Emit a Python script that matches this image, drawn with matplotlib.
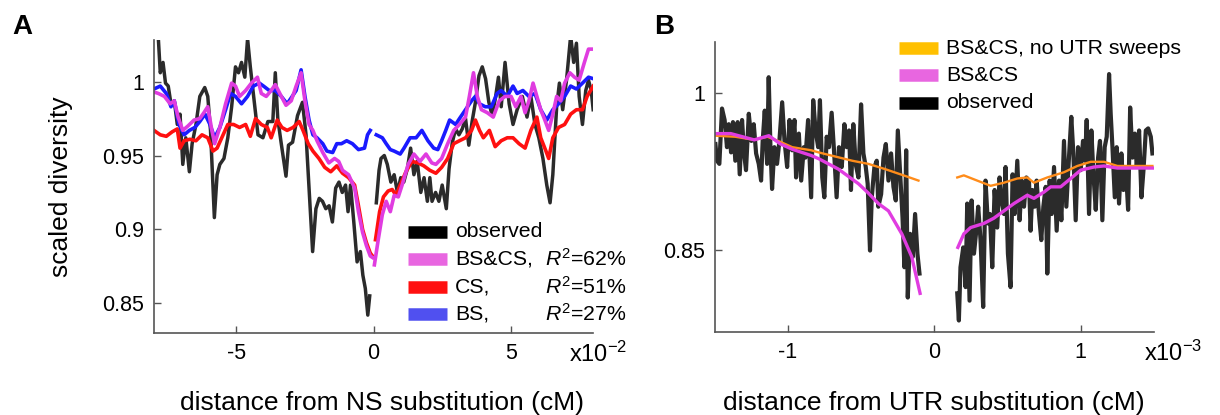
import matplotlib
matplotlib.use('Agg')
import matplotlib.pyplot as plt

nan = float('nan')

# ---- panel A: distance from NS substitution (x10^-2 cM) ----
a_obs_left_x = [-8.0, -7.84, -7.77, -7.67, -7.58, -7.48, -7.38, -7.26, -7.15, -7.05, -6.95, -6.84, -6.71, -6.61,
                -6.47, -6.33, -6.15, -6.04, -5.94, -5.8, -5.7, -5.6, -5.45, -5.31, -5.17, -5.03, -4.92, -4.81,
                -4.69, -4.59, -4.49, -4.38, -4.21, -4.03, -3.85, -3.67, -3.58, -3.49, -3.37, -3.19, -3.1, -2.95,
                -2.77, -2.59, -2.46, -2.34, -2.22, -2.1, -1.98, -1.86, -1.74, -1.62, -1.5, -1.38, -1.26, -1.14,
                -1.02, -0.93, -0.84, -0.72, -0.6, -0.48, -0.39, -0.3, -0.21, -0.14]
a_obs_left_y = [1.031, 1.029, 1.006, 1.013, 0.999, 0.997, 0.985, 0.987, 0.971, 0.978, 0.944, 0.962, 0.939, 0.958,
                0.971, 0.990, 0.996, 0.990, 0.967, 0.908, 0.937, 0.944, 0.948, 0.962, 0.983, 1.010, 1.006, 1.013,
                1.003, 1.029, 1.010, 0.992, 0.964, 0.962, 0.973, 0.973, 1.006, 0.975, 0.959, 0.936, 0.957, 0.959,
                0.977, 0.986, 0.964, 0.925, 0.885, 0.914, 0.921, 0.919, 0.914, 0.916, 0.905, 0.928, 0.932, 0.925,
                0.930, 0.912, 0.930, 0.905, 0.878, 0.885, 0.869, 0.860, 0.842, 0.855]
a_obs_right_x = [0.1, 0.2, 0.27, 0.39, 0.5, 0.63, 0.75, 0.87, 0.99, 1.1, 1.23, 1.35, 1.47, 1.59, 1.72, 1.84, 1.96,
                 2.05, 2.13, 2.26, 2.38, 2.5, 2.65, 2.75, 2.87, 2.99, 3.11, 3.23, 3.35, 3.47, 3.59, 3.71, 3.84,
                 3.96, 4.08, 4.2, 4.32, 4.44, 4.55, 4.65, 4.79, 4.94, 5.08, 5.23, 5.42, 5.59, 5.73, 5.88, 6.02,
                 6.17, 6.31, 6.43, 6.53, 6.67, 6.77, 6.89, 7.03, 7.18, 7.29, 7.39, 7.49, 7.61, 7.73, 7.83, 7.93, 8.0]
a_obs_right_y = [0.918, 0.940, 0.948, 0.950, 0.944, 0.932, 0.937, 0.925, 0.935, 0.932, 0.941, 0.955, 0.937, 0.946,
                 0.925, 0.935, 0.919, 0.935, 0.919, 0.925, 0.919, 0.930, 0.914, 0.941, 0.959, 0.968, 0.964, 0.968,
                 0.975, 0.957, 0.973, 0.986, 1.004, 1.010, 1.002, 0.986, 0.977, 0.989, 1.003, 0.983, 1.013, 0.985,
                 0.971, 0.981, 0.990, 0.976, 0.990, 0.971, 0.962, 0.948, 0.930, 0.918, 0.937, 0.983, 0.999, 0.981,
                 1.001, 1.031, 1.013, 1.026, 0.990, 0.971, 0.994, 1.001, 0.994, 0.981]

a_bscs_left_x = [-8.0, -7.84, -7.62, -7.41, -7.26, -7.12, -6.95, -6.76, -6.54, -6.33, -6.18, -6.04, -5.89, -5.79,
                 -5.6, -5.39, -5.17, -5.03, -4.88, -4.66, -4.45, -4.23, -4.09, -3.91, -3.73, -3.58, -3.36, -3.19,
                 -3.0, -2.82, -2.64, -2.5, -2.35, -2.21, -2.06, -1.85, -1.63, -1.42, -1.27, -1.13, -0.91, -0.69,
                 -0.55, -0.4, -0.26, -0.12, -0.04]
a_bscs_left_y = [0.993, 0.992, 0.990, 0.985, 0.987, 0.976, 0.967, 0.970, 0.974, 0.975, 0.979, 0.983, 0.967, 0.958,
                 0.969, 0.985, 0.999, 0.997, 0.990, 0.994, 0.999, 1.003, 0.992, 0.990, 0.994, 0.998, 0.990, 0.984,
                 0.987, 0.997, 1.006, 0.987, 0.971, 0.967, 0.960, 0.952, 0.945, 0.948, 0.946, 0.940, 0.937, 0.928,
                 0.912, 0.898, 0.889, 0.882, 0.881]
a_bscs_right_x = [0.03, 0.17, 0.32, 0.46, 0.61, 0.75, 0.9, 1.04, 1.26, 1.47, 1.69, 1.91, 2.12, 2.27, 2.48, 2.7,
                  2.92, 3.13, 3.35, 3.49, 3.64, 3.78, 3.93, 4.14, 4.36, 4.58, 4.79, 5.01, 5.18, 5.37, 5.52, 5.66,
                  5.81, 5.95, 6.09, 6.24, 6.38, 6.53, 6.67, 6.82, 6.96, 7.15, 7.32, 7.49, 7.68, 7.83, 8.0]
a_bscs_right_y = [0.876, 0.893, 0.910, 0.919, 0.912, 0.923, 0.922, 0.930, 0.944, 0.951, 0.946, 0.951, 0.945, 0.944,
                  0.948, 0.958, 0.967, 0.971, 0.976, 0.990, 1.006, 0.990, 0.981, 0.979, 0.976, 0.987, 0.990, 0.990,
                  0.983, 0.990, 0.979, 0.987, 0.999, 0.990, 0.981, 0.974, 0.967, 0.978, 0.990, 0.987, 0.999, 1.006,
                  1.003, 1.001, 1.013, 1.022, 1.022]

a_cs_left_x = [-8.0, -7.77, -7.55, -7.34, -7.15, -7.05, -6.9, -6.69, -6.47, -6.25, -6.04, -5.85, -5.7, -5.53, -5.31,
               -5.1, -4.88, -4.66, -4.49, -4.3, -4.09, -3.87, -3.73, -3.51, -3.34, -3.15, -2.93, -2.71, -2.57, -2.38,
               -2.21, -1.99, -1.78, -1.56, -1.34, -1.13, -0.91, -0.69, -0.55, -0.4, -0.26, -0.12, -0.04]
a_cs_left_y = [0.967, 0.964, 0.963, 0.966, 0.968, 0.955, 0.960, 0.961, 0.960, 0.964, 0.962, 0.953, 0.955, 0.962,
               0.971, 0.971, 0.969, 0.971, 0.963, 0.975, 0.971, 0.969, 0.962, 0.974, 0.969, 0.967, 0.969, 0.973,
               0.967, 0.958, 0.953, 0.948, 0.942, 0.939, 0.943, 0.938, 0.935, 0.930, 0.916, 0.900, 0.891, 0.884,
               0.882]
a_cs_right_x = [0.07, 0.22, 0.36, 0.53, 0.68, 0.82, 0.97, 1.18, 1.4, 1.62, 1.83, 2.05, 2.27, 2.48, 2.7, 2.92, 3.13,
                3.35, 3.57, 3.71, 3.86, 4.0, 4.22, 4.43, 4.65, 4.87, 5.08, 5.3, 5.52, 5.73, 5.95, 6.09, 6.28, 6.38,
                6.53, 6.74, 6.96, 7.18, 7.39, 7.61, 7.78, 8.0]
a_cs_right_y = [0.893, 0.912, 0.922, 0.926, 0.927, 0.923, 0.930, 0.939, 0.946, 0.945, 0.943, 0.940, 0.938, 0.942,
                0.948, 0.958, 0.960, 0.962, 0.967, 0.974, 0.967, 0.962, 0.967, 0.956, 0.960, 0.962, 0.962, 0.958,
                0.955, 0.967, 0.976, 0.962, 0.953, 0.948, 0.962, 0.969, 0.971, 0.978, 0.981, 0.981, 0.990, 0.997]

a_bs_left_x = [-8.0, -7.77, -7.55, -7.38, -7.26, -7.09, -6.9, -6.71, -6.51, -6.33, -6.14, -5.96, -5.79, -5.6, -5.39,
               -5.21, -5.03, -4.81, -4.59, -4.38, -4.16, -4.01, -3.8, -3.58, -3.36, -3.15, -3.0, -2.82, -2.64, -2.5,
               -2.35, -2.21, -2.06, -1.85, -1.7, -1.49, -1.34, -1.17, -0.98, -0.77, -0.55, -0.33, -0.22, -0.12]
a_bs_left_y = [0.995, 0.997, 0.992, 0.983, 0.987, 0.971, 0.964, 0.967, 0.969, 0.973, 0.978, 0.971, 0.962, 0.969,
               0.981, 0.992, 0.990, 0.985, 0.990, 0.997, 0.999, 0.997, 0.994, 0.994, 0.990, 0.985, 0.989, 0.994,
               1.008, 0.990, 0.974, 0.964, 0.962, 0.958, 0.953, 0.952, 0.958, 0.958, 0.960, 0.958, 0.954, 0.955,
               0.964, 0.967]
a_bs_right_x = [0.1, 0.32, 0.46, 0.61, 0.75, 0.97, 1.11, 1.33, 1.55, 1.76, 1.98, 2.19, 2.34, 2.48, 2.63, 2.77, 2.99,
                3.13, 3.35, 3.57, 3.71, 3.86, 4.07, 4.29, 4.5, 4.65, 4.87, 5.08, 5.23, 5.44, 5.66, 5.88, 6.09, 6.31,
                6.53, 6.74, 6.96, 7.18, 7.39, 7.61, 7.83, 8.0]
a_bs_right_y = [0.964, 0.962, 0.958, 0.954, 0.953, 0.951, 0.955, 0.962, 0.962, 0.967, 0.960, 0.955, 0.954, 0.960,
                0.967, 0.974, 0.971, 0.975, 0.981, 0.987, 0.990, 0.985, 0.983, 0.983, 0.992, 0.994, 0.990, 0.997,
                0.992, 0.994, 0.990, 0.992, 0.981, 0.974, 0.981, 0.985, 0.990, 0.997, 0.995, 0.999, 1.003, 1.002]

a_legend = ['observed', 'BS&CS,', 'CS,', 'BS,']
a_r2 = ['62%', '51%', '27%']

# ---- panel B: distance from UTR substitution (x10^-3 cM) ----
b_obs_left_x = [-1.495, -1.484, -1.468, -1.450, -1.432, -1.416, -1.404, -1.388, -1.375, -1.359, -1.343, -1.329,
                -1.313, -1.299, -1.286, -1.267, -1.249, -1.233, -1.217, -1.199, -1.183, -1.172, -1.158, -1.142,
                -1.131, -1.119, -1.108, -1.092, -1.074, -1.058, -1.039, -1.023, -1.005, -0.989, -0.971, -0.955,
                -0.944, -0.925, -0.909, -0.891, -0.880, -0.862, -0.841, -0.827, -0.811, -0.793,
                -0.781, -0.765, -0.751, -0.735, -0.719, -0.701, -0.685, -0.667, -0.651, -0.632, -0.614, -0.598,
                -0.582, -0.569, -0.553, -0.537, -0.518, -0.500, -0.484, -0.468, -0.455, -0.439, -0.427, -0.409,
                -0.393, -0.382, -0.363, -0.347, -0.331, -0.313, -0.295, -0.279, -0.263, -0.249, -0.233, -0.217,
                -0.204, -0.192, -0.181, -0.165, -0.147, -0.131, -0.115, -0.101]
b_obs_left_y = [0.951, 0.935, 0.932, 0.985, 0.974, 0.948, 0.970, 0.943, 0.972, 0.935, 0.972, 0.922, 0.974, 0.942,
                0.926, 0.980, 0.954, 0.970, 0.942, 0.932, 0.916, 0.954, 0.983, 0.932, 1.015, 0.948, 0.908, 0.948,
                0.932, 0.954, 0.991, 0.954, 0.929, 0.974, 0.945, 0.974, 0.919, 0.961, 0.916, 0.948, 0.938, 0.974,
                0.900, 0.993, 0.964, 0.948,
                0.993, 0.919, 0.900, 0.958, 0.948, 0.981, 0.945, 0.900, 0.948, 0.929, 0.970, 0.948, 0.964, 0.907,
                0.970, 0.932, 0.919, 0.989, 0.942, 0.929, 0.913, 0.849, 0.900, 0.929, 0.935, 0.891, 0.903, 0.938,
                0.951, 0.916, 0.942, 0.910, 0.897, 0.964, 0.922, 0.881, 0.833, 0.945, 0.804, 0.865, 0.843, 0.884,
                0.846, 0.827]
b_obs_right_x = [0.157, 0.168, 0.179, 0.198, 0.214, 0.225, 0.241, 0.255, 0.271, 0.287, 0.300, 0.316, 0.334, 0.350,
                 0.366, 0.380, 0.396, 0.412, 0.430, 0.446, 0.460, 0.476, 0.487, 0.503, 0.521, 0.535, 0.549, 0.567,
                 0.583, 0.597, 0.613, 0.629, 0.647, 0.658, 0.670, 0.686, 0.699, 0.715, 0.731, 0.745, 0.761, 0.772,
                 0.788, 0.802, 0.818, 0.836, 0.852,
                 0.868, 0.886, 0.902, 0.920, 0.936, 0.950, 0.966, 0.982, 1.000, 1.016, 1.030, 1.041, 1.057, 1.073,
                 1.087, 1.103, 1.119, 1.132, 1.148, 1.164, 1.178, 1.194, 1.205, 1.217, 1.233, 1.246, 1.262, 1.278,
                 1.292, 1.308, 1.324, 1.338, 1.354, 1.370, 1.383, 1.399, 1.415, 1.429, 1.445, 1.461, 1.479, 1.490]
b_obs_right_y = [0.808, 0.782, 0.833, 0.852, 0.814, 0.894, 0.801, 0.897, 0.846, 0.868, 0.891, 0.859, 0.795, 0.916,
                 0.875, 0.884, 0.833, 0.907, 0.871, 0.919, 0.897, 0.884, 0.929, 0.846, 0.814, 0.922, 0.884, 0.935,
                 0.878, 0.916, 0.891, 0.919, 0.916, 0.868, 0.907, 0.891, 0.916, 0.884, 0.859, 0.891, 0.910, 0.827,
                 0.916, 0.884, 0.929, 0.868, 0.916,
                 0.878, 0.954, 0.891, 0.938, 0.977, 0.942, 0.878, 0.948, 0.926, 0.954, 0.935, 0.974, 0.884, 0.964,
                 0.922, 0.888, 0.938, 0.954, 0.878, 0.948, 0.958, 1.018, 0.980, 0.948, 0.900, 0.948, 0.894, 0.942,
                 0.907, 0.929, 0.888, 0.986, 0.938, 0.961, 0.929, 0.964, 0.900, 0.926, 0.964, 0.966, 0.958, 0.942]

b_bscs_left_x = [-1.5, -1.39, -1.31, -1.23, -1.13, -1.05, -0.97, -0.84, -0.79, -0.655, -0.518, -0.45, -0.382,
                 -0.313, -0.222, -0.154, -0.097]
b_bscs_left_y = [0.961, 0.961, 0.958, 0.955, 0.959, 0.951, 0.946, 0.940, 0.937, 0.927, 0.913, 0.904, 0.894, 0.887,
                 0.865, 0.843, 0.808]
b_bscs_right_x = [0.161, 0.202, 0.248, 0.339, 0.407, 0.476, 0.544, 0.635, 0.681, 0.749, 0.795, 0.863, 0.932, 1.0,
                  1.091, 1.16, 1.251, 1.365, 1.49]
b_bscs_right_y = [0.852, 0.865, 0.871, 0.875, 0.880, 0.887, 0.894, 0.902, 0.899, 0.905, 0.910, 0.910, 0.918, 0.926,
                  0.929, 0.930, 0.928, 0.928, 0.928]

b_noutr_left_x = [-1.5, -1.36, -1.23, -1.14, -1.05, -0.97, -0.84, -0.79, -0.56, -0.45, -0.336, -0.21, -0.108]
b_noutr_left_y = [0.959, 0.958, 0.955, 0.958, 0.953, 0.948, 0.945, 0.943, 0.935, 0.932, 0.927, 0.921, 0.916]
b_noutr_right_x = [0.157, 0.202, 0.293, 0.385, 0.476, 0.567, 0.635, 0.681, 0.772, 0.886, 0.977, 1.069, 1.16,
                   1.251, 1.365, 1.49]
b_noutr_right_y = [0.919, 0.921, 0.916, 0.911, 0.914, 0.918, 0.919, 0.914, 0.919, 0.924, 0.930, 0.934, 0.934,
                   0.930, 0.930, 0.930]

b_legend = ['BS&CS, no UTR sweeps', 'BS&CS', 'observed']

OBS = '#2b2b2b'
PINK = '#e03ce0'
RED = '#ff1010'
BLUE = '#1a1aff'
ORANGE = '#ff8c1a'


def join(left, right):
    return left + [nan] + right


def legend_rows(ax, rows, x0, y0, dy, fs):
    # hand made legend: thick bar + label, in axes fraction
    for i, (color, label) in enumerate(rows):
        y = y0 - i * dy
        ax.plot([x0, x0 + 0.088], [y, y], transform=ax.transAxes, color=color, lw=9,
                solid_capstyle='butt', clip_on=False)
        ax.text(x0 + 0.107, y, label, transform=ax.transAxes, va='center', ha='left', fontsize=fs)


def style_axes(ax):
    for s in ['top', 'right']:
        ax.spines[s].set_visible(False)
    for s in ['left', 'bottom']:
        ax.spines[s].set_color('#555555')
        ax.spines[s].set_linewidth(1.2)
    ax.tick_params(direction='in', length=5, width=1, color='#555555', labelsize=15.5, pad=7)


plt.rcParams['font.family'] = ['Liberation Sans', 'DejaVu Sans']
plt.rcParams['mathtext.fontset'] = 'custom'
plt.rcParams['mathtext.rm'] = 'Liberation Sans'
plt.rcParams['mathtext.it'] = 'Liberation Sans:italic'
plt.rcParams['axes.unicode_minus'] = False

fig = plt.figure(figsize=(12.2, 4.15), dpi=100)
ax_a = fig.add_axes([0.1262, 0.198, 0.36, 0.705])
ax_b = fig.add_axes([0.5858, 0.200, 0.36, 0.6995])

# panel A
ax_a.plot(join(a_obs_left_x, a_obs_right_x), join(a_obs_left_y, a_obs_right_y), color=OBS, lw=2.5)
ax_a.plot(join(a_cs_left_x, a_cs_right_x), join(a_cs_left_y, a_cs_right_y), color=RED, lw=2.6)
ax_a.plot(join(a_bs_left_x, a_bs_right_x), join(a_bs_left_y, a_bs_right_y), color=BLUE, lw=2.6)
ax_a.plot(join(a_bscs_left_x, a_bscs_right_x), join(a_bscs_left_y, a_bscs_right_y), color=PINK, lw=2.6)
ax_a.set_xlim(-8, 8)
ax_a.set_ylim(0.83, 1.028)
ax_a.set_xticks([-5, 0, 5])
ax_a.set_xticklabels(['-5', '0', '5'])
ax_a.set_yticks([0.85, 0.9, 0.95, 1.0])
ax_a.set_yticklabels(['0.85', '0.9', '0.95', '1'])
style_axes(ax_a)
ax_a.set_ylabel('scaled diversity', fontsize=19)
ax_a.yaxis.set_label_coords(-0.185, 0.5)
ax_a.set_xlabel('distance from NS substitution (cM)', fontsize=19, va='center')
ax_a.xaxis.set_label_coords(0.52, -0.24)
ax_a.text(0.945, -0.075, 'x10$^{-2}$', transform=ax_a.transAxes, fontsize=17, va='center', ha='left')

legend_rows(ax_a, list(zip(['#000000', '#e866e0', RED, '#5050f0'], a_legend)), 0.579, 0.346, 0.094, 15.3)
for i, r in enumerate(a_r2):
    ax_a.text(0.891, 0.346 - (i + 1) * 0.094, '$R^2$=' + r, transform=ax_a.transAxes,
              va='center', ha='left', fontsize=15.3)

# panel B
ax_b.plot(join(b_obs_left_x, b_obs_right_x), join(b_obs_left_y, b_obs_right_y), color=OBS, lw=3.0)
ax_b.plot(join(b_noutr_left_x, b_noutr_right_x), join(b_noutr_left_y, b_noutr_right_y), color=ORANGE, lw=1.7)
ax_b.plot(join(b_bscs_left_x, b_bscs_right_x), join(b_bscs_left_y, b_bscs_right_y), color=PINK, lw=2.4)
ax_b.set_xlim(-1.5, 1.5)
ax_b.set_ylim(0.771, 1.049)
ax_b.set_xticks([-1, 0, 1])
ax_b.set_xticklabels(['-1', '0', '1'])
ax_b.set_yticks([0.85, 1.0])
ax_b.set_yticklabels(['0.85', '1'])
style_axes(ax_b)
ax_b.set_xlabel('distance from UTR substitution (cM)', fontsize=19, va='center')
ax_b.xaxis.set_label_coords(0.5, -0.245)
ax_b.text(0.977, -0.075, 'x10$^{-3}$', transform=ax_b.transAxes, fontsize=17, va='center', ha='left')

legend_rows(ax_b, list(zip(['#ffc000', '#e866e0', '#000000'], b_legend)), 0.42, 0.978, 0.094, 15.3)

fig.text(0.0098, 0.935, 'A', fontsize=20, fontweight='bold', va='center')
fig.text(0.536, 0.935, 'B', fontsize=20, fontweight='bold', va='center')

fig.savefig('out.png', dpi=100)
